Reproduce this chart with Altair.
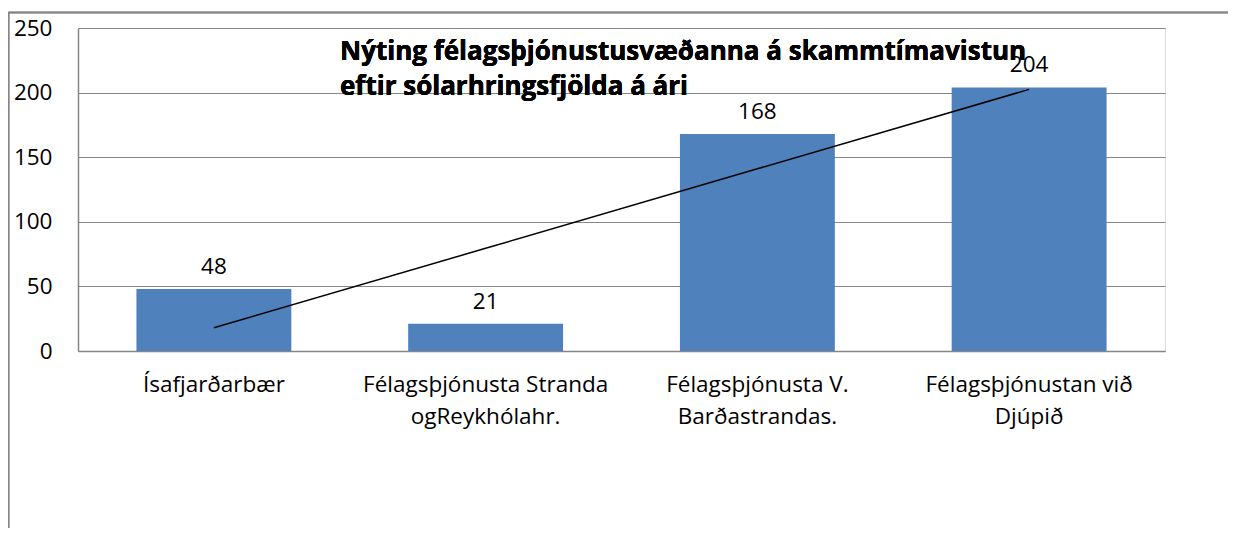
import altair as alt
import pandas as pd
import numpy as np

categories = ["Ísafjarðarbær", "Félagsþjónusta Stranda\nogReykhólahr.",
              "Félagsþjónusta V.\nBarðastrandas.", "Félagsþjónustan við\nDjúpið"]
values = [48, 21, 168, 204]
title_lines = ["Nýting félagsþjónustusvæðanna á skammtímavistun",
               "eftir sólarhringsfjölda á ári"]
y_ticks = [0, 50, 100, 150, 200, 250]

idx = np.arange(1, len(values) + 1)
slope, intercept = np.polyfit(idx, values, 1)
trend = [float(slope * i + intercept) for i in idx]

df = pd.DataFrame({"cat": categories, "val": values, "trend": trend})

FONT = "Open Sans"
GRAY = "#868686"
FS = 22.5

x_enc = alt.X("cat:N", sort=categories, title=None,
              scale=alt.Scale(paddingInner=0.43, paddingOuter=0.215),
              axis=alt.Axis(labelAngle=0, labelFont=FONT, labelFontSize=FS,
                            labelColor="black", labelExpr="split(datum.label, '\\n')",
                            labelLineHeight=32, labelPadding=22, labelBaseline="top",
                            ticks=False, domainColor=GRAY, domainWidth=1.5,
                            labelLimit=400))
y_enc = alt.Y("val:Q", title=None,
              scale=alt.Scale(domain=[0, 250], nice=False),
              axis=alt.Axis(values=y_ticks, labelFont=FONT, labelFontSize=FS,
                            labelColor="black", labelPadding=26, ticks=False,
                            domainColor=GRAY, domainWidth=1.5,
                            gridColor=GRAY, gridWidth=1.2))

base = alt.Chart(df)
bars = base.mark_bar(color="#4F81BD").encode(x=x_enc, y=y_enc)
labels = base.mark_text(font=FONT, fontSize=FS, color="black", dy=-22,
                        baseline="middle").encode(
    x=alt.X("cat:N", sort=categories), y="val:Q", text="val:Q")
trend_line = base.mark_line(color="black", strokeWidth=1.5).encode(
    x=alt.X("cat:N", sort=categories), y="trend:Q")
title = base.mark_text(font=FONT, fontSize=26, fontWeight="bold", color="black",
                       align="left", baseline="middle", lineHeight=35).encode(
    x=alt.value(262), y=alt.value(24), text=alt.value(title_lines))
frame_left = base.mark_rule(color=GRAY, strokeWidth=1.5).encode(
    x=alt.value(-69.5), y=alt.value(-15.5), y2=alt.value(520))
frame_top = base.mark_rule(color=GRAY, strokeWidth=1.5).encode(
    x=alt.value(-69.5), x2=alt.value(1160), y=alt.value(-15.5))

chart = alt.layer(bars, labels, trend_line, title, frame_left, frame_top).properties(
    width=1087, height=323,
    autosize=alt.AutoSizeParams(type="none"),
    padding={"left": 70, "top": 20, "right": 63, "bottom": 177},
).configure_view(stroke=None).configure(background="white")

chart.save("out.html", embed_options={"renderer": "svg", "actions": False})
